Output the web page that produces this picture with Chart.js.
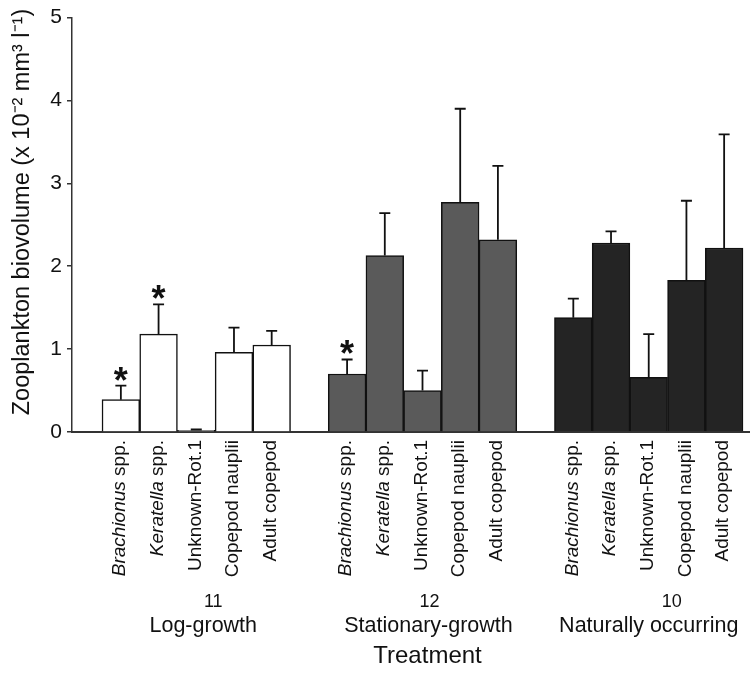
<!DOCTYPE html>
<html lang="en">
<head>
<meta charset="UTF-8">
<script src="https://cdn.jsdelivr.net/npm/chart.js"></script>
<title>Zooplankton biovolume</title>
<style>
    body { margin: 0; background: #fff; }
    .chart-container { position: relative; width: 750px; height: 673px; }
</style>
</head>
<body>
<div class="chart-container"><canvas id="myChart"></canvas></div>
<script>
// taxa: italic genus part + plain part
const taxaItalic = ['Brachionus', 'Keratella', '', '', ''];
const taxaPlain = [' spp.', ' spp.', 'Unknown-Rot.1', 'Copepod nauplii', 'Adult copepod'];

const treatments = ['Log-growth', 'Stationary-growth', 'Naturally occurring'];
const replicates = ['11', '12', '10'];
const fills = ['#ffffff', '#5a5a5a', '#242424'];

// mean biovolume and upper error (SE)
const logGrowth = [0.39, 1.18, 0.02, 0.96, 1.05];
const logGrowthSE = [0.17, 0.36, 0.01, 0.30, 0.17];
const logGrowthSig = [true, true, false, false, false];

const stationary = [0.70, 2.13, 0.50, 2.77, 2.32];
const stationarySE = [0.175, 0.51, 0.24, 1.13, 0.89];
const stationarySig = [true, false, false, false, false];

const natural = [1.38, 2.28, 0.66, 1.83, 2.22];
const naturalSE = [0.23, 0.14, 0.52, 0.96, 1.37];
const naturalSig = [false, false, false, false, false];

const yMin = 0, yMax = 5, yStep = 1;
const yTitle = 'Zooplankton biovolume (x 10⁻² mm³ l⁻¹)';

const family = "'Liberation Sans', Arial, Helvetica, sans-serif";
const ink = '#111';

// slot on the x axis: 5 bars per group, one empty slot between groups
const slot = (g, i) => g * 6 + i + 1;

const series = [logGrowth, stationary, natural];
const seriesSE = [logGrowthSE, stationarySE, naturalSE];
const seriesSig = [logGrowthSig, stationarySig, naturalSig];

const datasets = series.map((vals, g) => ({
    label: treatments[g],
    data: vals.map((v, i) => ({ x: slot(g, i), y: v })),
    se: seriesSE[g],
    sig: seriesSig[g],
    backgroundColor: fills[g],
    borderColor: ink,
    borderWidth: 1.5,
    barPercentage: 1,
    categoryPercentage: 1
}));

// small nudges of the group captions (px), as in the original figure
const numNudge = [17, 7, 23];
const nameNudge = [7, 6, 0];

const overlay = {
    id: 'overlay',
    afterDatasetsDraw(chart) {
        const { ctx, scales: { x, y } } = chart;
        ctx.save();
        ctx.strokeStyle = ink;
        ctx.fillStyle = ink;
        ctx.lineWidth = 1.8;
        chart.data.datasets.forEach(ds => {
            ds.data.forEach((pt, i) => {
                const px = x.getPixelForValue(pt.x);
                const top = y.getPixelForValue(pt.y);
                const end = y.getPixelForValue(pt.y + ds.se[i]);
                ctx.beginPath();
                ctx.moveTo(px, top);
                ctx.lineTo(px, end);
                ctx.moveTo(px - 5.5, end);
                ctx.lineTo(px + 5.5, end);
                ctx.stroke();
                if (ds.sig[i]) {
                    ctx.font = 'bold 36px ' + family;
                    const m = ctx.measureText('*');
                    const h = m.actualBoundingBoxAscent + m.actualBoundingBoxDescent;
                    const cy = end - 12;
                    ctx.textAlign = 'center';
                    ctx.textBaseline = 'alphabetic';
                    ctx.fillText('*', px, cy + h / 2 - m.actualBoundingBoxDescent);
                }
            });
        });
        ctx.restore();
    },
    afterDraw(chart) {
        const { ctx, scales: { x, y } } = chart;
        const base = y.getPixelForValue(0);
        ctx.save();
        ctx.fillStyle = ink;
        // y title
        ctx.save();
        ctx.translate(23, 212);
        ctx.rotate(-Math.PI / 2);
        ctx.textAlign = 'center';
        ctx.textBaseline = 'middle';
        ctx.font = '23.5px ' + family;
        ctx.fillText(yTitle, 0, 0);
        ctx.restore();
        // rotated category labels
        treatments.forEach((t, g) => {
            taxaPlain.forEach((plain, i) => {
                const px = x.getPixelForValue(slot(g, i));
                ctx.save();
                ctx.translate(px - 1, base + 8);
                ctx.rotate(-Math.PI / 2);
                ctx.textBaseline = 'middle';
                ctx.textAlign = 'left';
                ctx.font = 'italic 19px ' + family;
                const w1 = ctx.measureText(taxaItalic[i]).width;
                ctx.font = '19px ' + family;
                const w2 = ctx.measureText(plain).width;
                ctx.font = 'italic 19px ' + family;
                ctx.fillText(taxaItalic[i], -(w1 + w2), 0);
                ctx.font = '19px ' + family;
                ctx.fillText(plain, -w2, 0);
                ctx.restore();
            });
            // group labels
            const cx = x.getPixelForValue(slot(g, 2));
            ctx.textAlign = 'center';
            ctx.textBaseline = 'middle';
            ctx.font = '18px ' + family;
            ctx.fillText(replicates[g], cx + numNudge[g], 602);
            ctx.font = '21.5px ' + family;
            ctx.fillText(t, cx + nameNudge[g], 626);
        });
        ctx.font = '24px ' + family;
        ctx.textAlign = 'center';
        ctx.textBaseline = 'middle';
        ctx.fillText('Treatment', x.getPixelForValue(slot(1, 2)) + 5, 656);
        ctx.restore();
    }
};

const config = {
    type: 'bar',
    data: { datasets: datasets },
    options: {
        responsive: true,
        maintainAspectRatio: false,
        animation: false,
        grouped: false,
        layout: { padding: { top: 15, left: 0, right: 0, bottom: 0 } },
        plugins: {
            legend: { display: false },
            tooltip: { enabled: false }
        },
        scales: {
            x: {
                type: 'linear',
                offset: false,
                min: -0.296,
                max: 17.686,
                ticks: { display: false },
                grid: { display: false, offset: false },
                border: { color: '#333', width: 2 },
                afterFit(scale) { scale.height = 241; }
            },
            y: {
                min: yMin,
                max: yMax,
                ticks: { stepSize: yStep, color: ink, font: { size: 21, family: family }, padding: 5 },
                grid: { drawOnChartArea: false, drawTicks: true, tickLength: 5, color: '#333', lineWidth: 1.5 },
                border: { color: '#333', width: 1.5 },
                title: { display: false },
                afterFit(scale) { scale.width = 72; }
            }
        }
    },
    plugins: [overlay]
};

const myChart = new Chart(document.getElementById('myChart'), config);
</script>
</body>
</html>
